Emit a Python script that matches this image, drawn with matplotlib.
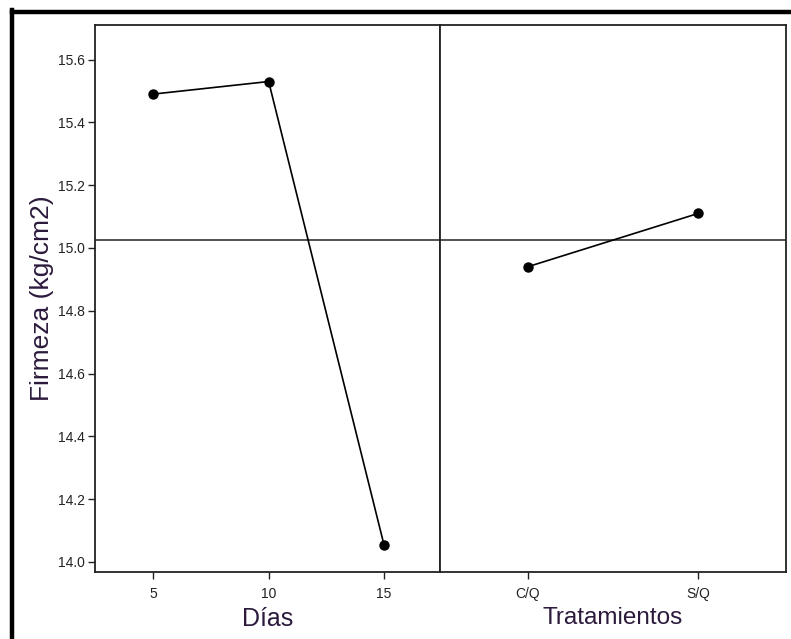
import matplotlib
matplotlib.use("Agg")
import matplotlib.pyplot as plt
from matplotlib.lines import Line2D
import numpy as np

# Main effects of firmness by day and by treatment
dias = [5, 10, 15]
firmeza_dias = [15.49, 15.53, 14.055]
tratamientos = ["C/Q", "S/Q"]
firmeza_trat = [14.94, 15.11]
yticks = [14.0, 14.2, 14.4, 14.6, 14.8, 15.0, 15.2, 15.4, 15.6]

media = np.mean(firmeza_dias)

W, H = 791, 639
fig = plt.figure(figsize=(W / 100, H / 100), dpi=100)
fig.patch.set_facecolor("white")

tick_font = dict(family=["Liberation Sans Narrow", "Liberation Sans", "DejaVu Sans"], size=10)
label_family = ["Liberation Sans", "DejaVu Sans"]
label_color = "#2b1a3c"

left, right, top, bottom, split = 95, 786, 25, 572, 440
ax1 = fig.add_axes([left / W, 1 - bottom / H, (split - left) / W, (bottom - top) / H])
ax2 = fig.add_axes([split / W, 1 - bottom / H, (right - split) / W, (bottom - top) / H], sharey=ax1)

ylim = (13.968, 15.71)

# Day panel
ax1.plot(dias, firmeza_dias, color="black", lw=1.2, marker="o", ms=6.5, zorder=3)
ax1.axhline(media, color="#222222", lw=1.1, zorder=2)
ax1.set_xlim(2.47, 17.43)
ax1.set_ylim(*ylim)
ax1.set_xticks(dias)
ax1.set_xticklabels([str(d) for d in dias], **tick_font)
ax1.set_yticks(yticks)
ax1.set_yticklabels([f"{v:.1f}" for v in yticks], **tick_font)
ax1.set_xlabel("Días", color=label_color, labelpad=4, family=label_family, size=18)
ax1.set_ylabel("Firmeza (kg/cm2)", color=label_color, labelpad=3,
               family=label_family, size=19)

# Treatment panel
xt = np.arange(len(tratamientos))
ax2.plot(xt, firmeza_trat, color="black", lw=1.2, marker="o", ms=6.5, zorder=3)
ax2.axhline(media, color="#222222", lw=1.1, zorder=2)
ax2.set_xlim(-0.514, 1.514)
ax2.set_xticks(xt)
ax2.set_xticklabels(tratamientos, **tick_font)
ax2.tick_params(axis="y", left=False, labelleft=False)
ax2.set_xlabel("Tratamientos", color=label_color, labelpad=4,
               family=label_family, size=17.5)

for ax in (ax1, ax2):
    for s in ax.spines.values():
        s.set_color("#222222")
        s.set_linewidth(1.3)
    ax.tick_params(axis="both", direction="out", length=5, width=1.0,
                   color="#222222", pad=2, labelcolor="#222222")
    ax.tick_params(axis="x", pad=6)
    ax.set_facecolor("white")

# Outer frame (top and left edges)
fig.add_artist(Line2D([11.5 / W, 1.0], [1 - 11.5 / H, 1 - 11.5 / H],
                      transform=fig.transFigure, color="black", lw=3.2))
fig.add_artist(Line2D([11.5 / W, 11.5 / W], [0.0, 1 - 10 / H],
                      transform=fig.transFigure, color="black", lw=3.2))

fig.savefig("out.png", dpi=100, facecolor="white")
